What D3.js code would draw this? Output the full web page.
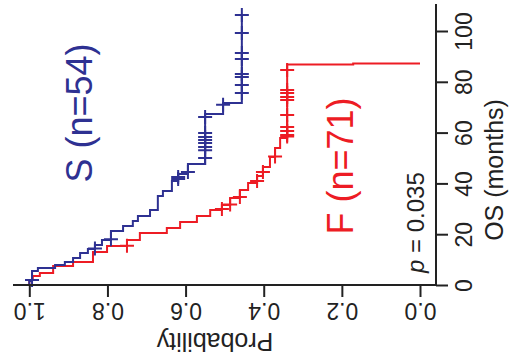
<!doctype html>
<html>
  <head>
    <meta charset="utf-8">
    <title>KM plot, rotated</title>
    <script src="https://cdn.jsdelivr.net/npm/d3@7"></script>
    <style>
      html, body { margin:0; padding:0; overflow:hidden; background:#fff }
      svg { display:block }
      text { font-family: "Liberation Sans", Arial, Helvetica, sans-serif; }
    </style>
  </head>
  <body>
    <div id="chart"></div>
    <script>
      // survival steps: time (months) of each drop and the survival after it
      var sTimes = [1.6, 5.5, 6.7, 7.9, 9.1, 10.6, 12.6, 14.2, 15.7, 17.7, 21.3, 23.2, 25.2, 27.2, 29.5, 35.0, 37.0, 40.9, 43.7, 47.6, 67.3, 71.7];
      var sSurv  = [0.993, 0.978, 0.934, 0.909, 0.888, 0.870, 0.850, 0.832, 0.814, 0.791, 0.760, 0.735, 0.722, 0.691, 0.671, 0.658, 0.635, 0.619, 0.594, 0.550, 0.504, 0.456];
      var sCens  = [2.0, 14.4, 18.0, 41.7, 42.5, 44.5, 50.0, 53.1, 54.3, 55.9, 57.1, 58.3, 59.8, 66.1, 71.0, 75.6, 78.7, 81.9, 83.1, 89.0, 91.3, 99.2, 106.3];

      var fTimes = [2.0, 3.5, 4.7, 7.5, 9.1, 13.0, 15.4, 17.7, 20.5, 22.4, 24.8, 27.2, 29.5, 31.5, 34.3, 37.4, 40.2, 42.9, 46.5, 50.4, 53.9, 57.9, 86.8, 87.2];
      var fSurv  = [0.991, 0.973, 0.939, 0.888, 0.837, 0.801, 0.750, 0.717, 0.648, 0.614, 0.571, 0.537, 0.507, 0.486, 0.461, 0.440, 0.417, 0.402, 0.384, 0.371, 0.358, 0.340, 0.171, 0.0];
      var fCens  = [15.5, 29.9, 31.7, 34.6, 40.9, 44.5, 50.6, 58.5, 59.1, 60.6, 62.2, 66.9, 72.8, 74.0, 75.6, 76.8, 84.6];

      var probTicks = [0, 0.2, 0.4, 0.6, 0.8, 1.0];
      var timeTicks = [0, 20, 40, 60, 80, 100];

      var BLUE = "#2e3192", RED = "#ed1c24";
      var W = 511, H = 361;

      var svg = d3.select("#chart").append("svg")
        .attr("width", W).attr("height", H);

      // the plot is turned on its side: probability runs right-to-left, time runs up
      var x = d3.scaleLinear().domain([1, 0]).range([29.3, 420]);
      var y = d3.scaleLinear().domain([0, 100]).range([285, 31]);

      function curvePoints(times, surv, cens) {
        var pts = [[0, 1]];
        times.forEach(function(t, i) { pts.push([t, surv[i]]); });
        var lastT = d3.max(cens), lastS = surv[surv.length - 1];
        if (lastT > times[times.length - 1]) pts.push([lastT, lastS]);
        return pts;
      }

      function survAt(times, surv, t) {
        var s = 1;
        for (var i = 0; i < times.length; i++) if (times[i] <= t) s = surv[i];
        return s;
      }

      var line = d3.line()
        .x(function(d) { return x(d[1]); })
        .y(function(d) { return y(d[0]); })
        .curve(d3.curveStepBefore);

      function drawGroup(times, surv, cens, color) {
        svg.append("path")
          .attr("d", line(curvePoints(times, surv, cens)))
          .attr("fill", "none").attr("stroke", color).attr("stroke-width", 2);
        svg.append("g").selectAll("path").data(cens).enter().append("path")
          .attr("d", function(t) {
            var cx = x(survAt(times, surv, t)), cy = y(t), r = 7;
            return "M" + (cx - r) + "," + cy + "H" + (cx + r) + "M" + cx + "," + (cy - r) + "V" + (cy + r);
          })
          .attr("fill", "none").attr("stroke", color).attr("stroke-width", 2);
      }

      drawGroup(fTimes, fSurv, fCens, RED);
      drawGroup(sTimes, sSurv, sCens, BLUE);

      // probability axis (bottom), labels upside down
      var gx = svg.append("g").attr("transform", "translate(0," + y(0) + ")")
        .call(d3.axisBottom(x).tickValues(probTicks).tickSize(12).tickFormat(d3.format(".1f")));
      gx.select(".domain").remove();
      gx.selectAll(".tick line").attr("stroke", "#222").attr("stroke-width", 2);
      gx.selectAll(".tick text")
        .attr("y", 0).attr("dy", 0)
        .attr("transform", "translate(0,18) rotate(180)")
        .attr("font-size", 23).attr("fill", "#222");
      svg.append("line")
        .attr("x1", 13).attr("x2", 436).attr("y1", y(0)).attr("y2", y(0))
        .attr("stroke", "#222").attr("stroke-width", 2);

      // time axis (right), labels turned
      var gy = svg.append("g").attr("transform", "translate(436,0)")
        .call(d3.axisRight(y).tickValues(timeTicks).tickSize(12));
      gy.select(".domain").remove();
      gy.selectAll(".tick line").attr("stroke", "#222").attr("stroke-width", 2);
      gy.selectAll(".tick text")
        .attr("x", 0).attr("dy", 0).attr("text-anchor", "middle")
        .attr("transform", "translate(36,0) rotate(-90)")
        .attr("font-size", 23).attr("fill", "#222");
      svg.append("line")
        .attr("x1", 436).attr("x2", 436).attr("y1", y(0) + 1).attr("y2", 4)
        .attr("stroke", "#222").attr("stroke-width", 2);

      svg.append("text")
        .attr("transform", "translate(215,333) rotate(180)")
        .attr("text-anchor", "middle").attr("font-size", 25).attr("fill", "#222")
        .text("Probability");

      svg.append("text")
        .attr("transform", "translate(503,170) rotate(-90)")
        .attr("text-anchor", "middle").attr("font-size", 25).attr("fill", "#222")
        .text("OS (months)");

      svg.append("text")
        .attr("transform", "translate(92,113) rotate(-90)")
        .attr("text-anchor", "middle").attr("font-size", 36).attr("fill", BLUE)
        .text("S (n=54)");

      svg.append("text")
        .attr("transform", "translate(353,166) rotate(-90)")
        .attr("text-anchor", "middle").attr("font-size", 36).attr("fill", RED)
        .text("F (n=71)");

      var pt = svg.append("text")
        .attr("transform", "translate(424,273) rotate(-90)")
        .attr("font-size", 24).attr("fill", "#222");
      pt.append("tspan").attr("font-style", "italic").text("p");
      pt.append("tspan").text(" = 0.035");
    </script>
  </body>
</html>
